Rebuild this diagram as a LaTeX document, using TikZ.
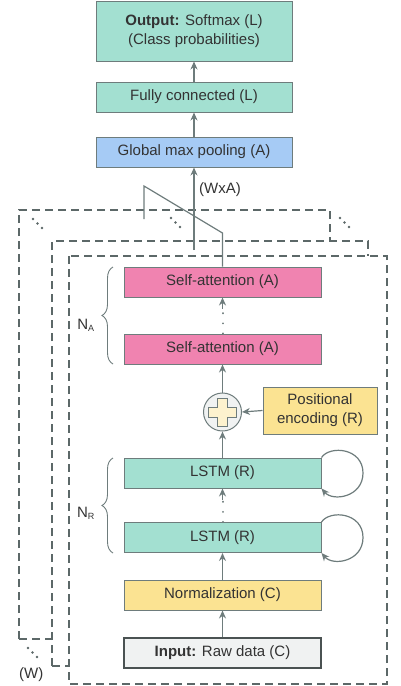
\documentclass[tikz,border=0pt]{standalone}
\usepackage{fontspec}
\setmainfont{Liberation Sans}
\usetikzlibrary{arrows.meta,decorations.pathreplacing}
\definecolor{teal}{HTML}{A3E0D1}
\definecolor{blueb}{HTML}{A6CBF5}
\definecolor{pinkb}{HTML}{F083B0}
\definecolor{yellowb}{HTML}{FBE392}
\definecolor{grayb}{HTML}{F0F2F2}
\definecolor{edge}{HTML}{6E7C7C}
\definecolor{darkedge}{HTML}{4A5252}
\definecolor{txt}{HTML}{333333}
\definecolor{dash}{HTML}{5C6868}
\tikzset{
  box/.style={draw=edge, line width=1pt, minimum width=197pt, minimum height=30pt, inner sep=0pt,
     font=\fontsize{15}{19}\selectfont, text=txt, align=center},
  arr/.style={draw=edge, line width=1.2pt, -{Stealth[length=8pt,width=7pt]}},
  dotline/.style={draw=edge, line width=2pt, dash pattern=on 0.1pt off 10pt, line cap=round},
  conn/.style={draw=edge, line width=1.2pt},
  dbox/.style={draw=dash, line width=2.4pt, dash pattern=on 8pt off 5pt},
  dotf/.style={fill=dash},
  brc/.style={draw=edge, line width=0.9pt, decorate, decoration={brace, amplitude=11pt, mirror}},
  lbl/.style={font=\fontsize{15}{19}\selectfont, text=txt, inner sep=0pt}
}
\begin{document}
\begin{tikzpicture}[x=1pt,y=-1pt]
\useasboundingbox (0,0) rectangle (400,686);
% dashed frames
\draw[dbox] (52,666) -- (69,666);
\draw[dbox] (19,639) -- (52,639);
\draw[dbox] (19,639) -- (19,210) -- (330,210) -- (330,240);
\draw[dbox] (52,666) -- (52,241) -- (368,241) -- (368,256);
\draw[dbox] (69,256) rectangle (387,684);
% ellipsis dots
\foreach \x/\y in {33/219,171/218,340/218,28/648}{
  \fill[dotf] (\x,\y) circle (1.3pt);
  \fill[dotf] (\x+4.5,\y+4.5) circle (1.3pt);
  \fill[dotf] (\x+9,\y+9) circle (1.3pt);
}
\node[lbl, anchor=west] (w) at (19,675) {(W)};
% top boxes
\node[box, fill=teal, minimum width=196pt, minimum height=60pt] (out) at (194,31) {\textbf{Output:} Softmax (L)\\(Class probabilities)};
\node[box, fill=teal, minimum width=196pt] (fc) at (194,97) {Fully connected (L)};
\node[box, fill=blueb, minimum width=196pt] (gmp) at (194,152) {Global max pooling (A)};
% inner boxes
\node[box, fill=pinkb] (sa1) at (222.5,282) {Self-attention (A)};
\node[box, fill=pinkb] (sa2) at (222.5,349) {Self-attention (A)};
\node[circle, draw=edge, line width=1pt, fill=grayb, minimum size=38pt, inner sep=0pt] (ck) at (222.5,412) {};
\draw[draw=edge, line width=0.9pt, fill=yellowb!45] (217.5,398) -- (227.5,398) -- (227.5,407) -- (236.5,407) -- (236.5,417) -- (227.5,417) -- (227.5,426) -- (217.5,426) -- (217.5,417) -- (208.5,417) -- (208.5,407) -- (217.5,407) -- cycle;
\node[box, fill=yellowb, minimum width=114pt, minimum height=47pt] (pe) at (320,410.5) {Positional\\encoding (R)};
\node[box, fill=teal] (l1) at (222.5,473) {LSTM (R)};
\node[box, fill=teal] (l2) at (222.5,537.5) {LSTM (R)};
\node[box, fill=yellowb] (nm) at (222.5,595) {Normalization (C)};
\node[box, fill=grayb, draw=darkedge, line width=1.4pt] (inp) at (222.5,653) {\textbf{Input:} Raw data (C)};
% connectors
\draw[arr] (fc.north) -- (out.south);
\draw[arr] (gmp.north) -- (fc.south);
\coordinate (pin) at (194,250);
\draw[arr] (pin) -- (gmp.south);
\node[lbl, anchor=west] (wxa) at (199,190) {(WxA)};
\coordinate (t1) at (144,219);
\coordinate (t2) at (144,186);
\coordinate (t3) at (222.5,233);
\draw[conn] (t1) -- (t2) -- (t3) -- (sa1.north);
\draw[dotline] (sa2.north) -- ([yshift=-10pt]sa1.south);
\draw[arr] ([yshift=-11pt]sa1.south) -- (sa1.south);
\draw[arr] (ck.north) -- (sa2.south);
\draw[arr] (pe.west) -- (ck.east);
\draw[arr] (l1.north) -- (ck.south);
\draw[dotline] (l2.north) -- ([yshift=-10pt]l1.south);
\draw[arr] ([yshift=-11pt]l1.south) -- (l1.south);
\draw[arr] (nm.north) -- (l2.south);
\draw[arr] (inp.north) -- (nm.south);
% self loops
\draw[arr] (l1.north east) .. controls (330,445) and (363,448) .. (363,473) .. controls (363,497) and (333,502) .. (l1.south east);
\draw[arr] (l2.north east) .. controls (330,509.5) and (363,512.5) .. (363,537.5) .. controls (363,561.5) and (333,566.5) .. (l2.south east);
% braces
\coordinate (a1) at (113,267);
\coordinate (a2) at (113,364);
\draw[brc] (a1) -- (a2);
\node[lbl] (na) at (86,325) {N\textsubscript{\fontsize{9}{9}\selectfont A}};
\coordinate (r1) at (113,458);
\coordinate (r2) at (113,553);
\draw[brc] (r1) -- (r2);
\node[lbl] (nr) at (86,513) {N\textsubscript{\fontsize{9}{9}\selectfont R}};
\end{tikzpicture}
\end{document}
